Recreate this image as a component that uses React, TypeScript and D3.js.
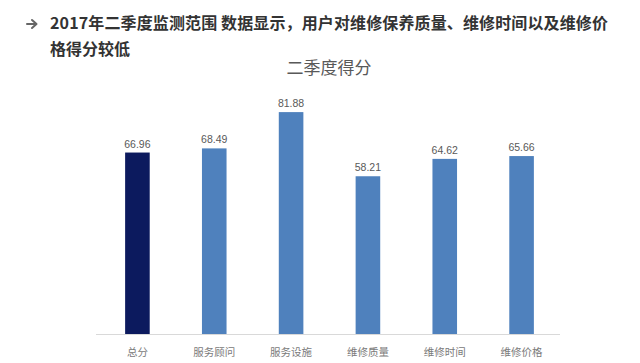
import React from "react";
import * as d3 from "d3";

const categories = ["总分", "服务顾问", "服务设施", "维修质量", "维修时间", "维修价格"];
const scores = [66.96, 68.49, 81.88, 58.21, 64.62, 65.66];
const barColors = ["#0c1a5e", "#4f81bd", "#4f81bd", "#4f81bd", "#4f81bd", "#4f81bd"];

const headline1 = "2017年二季度监测范围 数据显示，用户对维修保养质量、维修时间以及维修价";
const headline2 = "格得分较低";
const chartTitle = "二季度得分";

const W = 640;
const H = 363;
const cjk = "'Noto Sans CJK SC', 'Noto Sans', sans-serif";

export default function App() {
  const x = d3.scaleBand<string>().domain(categories).range([99, 560]).paddingInner(0.68).paddingOuter(0.34);
  const y = d3.scaleLinear().domain([0, 100]).range([334, 63]);

  return (
    <svg
      width={W}
      height={H}
      style={{ position: "absolute", left: 0, top: 0, background: "#fff" }}
    >
      {/* arrow bullet */}
      <g stroke="#666" strokeWidth={2} fill="none" strokeLinecap="round" strokeLinejoin="round">
        <line x1={27} y1={24} x2={36} y2={24} />
        <polyline points="32,20 36.5,24 32,28" />
      </g>
      <text
        x={50}
        y={29}
        fontFamily={cjk}
        fontWeight="bold"
        fontSize={16}
        fill="#333"
        textLength={558}
        lengthAdjust="spacing"
      >
        {headline1}
      </text>
      <text x={50} y={55} fontFamily={cjk} fontWeight="bold" fontSize={16} fill="#333">
        {headline2}
      </text>

      <text x={329} y={74} textAnchor="middle" fontFamily={cjk} fontSize={17} fill="#595959">
        {chartTitle}
      </text>

      {categories.map((c, i) => (
        <rect
          key={c}
          x={x(c)}
          y={y(scores[i])}
          width={x.bandwidth()}
          height={y(0) - y(scores[i])}
          fill={barColors[i]}
        />
      ))}

      <line x1={96} x2={560} y1={y(0) + 0.5} y2={y(0) + 0.5} stroke="#d9d9d9" strokeWidth={1} />

      {categories.map((c, i) => (
        <text
          key={"v" + c}
          x={(x(c) ?? 0) + x.bandwidth() / 2}
          y={y(scores[i]) - 5}
          textAnchor="middle"
          fontFamily="'Liberation Sans', Arial, sans-serif"
          fontSize={10.5}
          fill="#595959"
        >
          {scores[i].toFixed(2)}
        </text>
      ))}

      {categories.map((c) => (
        <text
          key={"c" + c}
          x={(x(c) ?? 0) + x.bandwidth() / 2}
          y={356}
          textAnchor="middle"
          fontFamily={cjk}
          fontSize={10.5}
          fill="#7a7a7a"
        >
          {c}
        </text>
      ))}
    </svg>
  );
}
